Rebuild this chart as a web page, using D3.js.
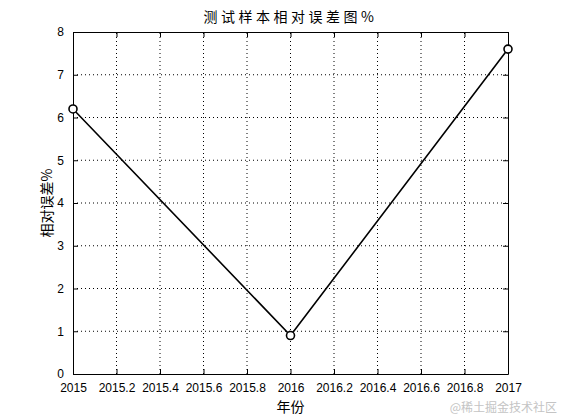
<!DOCTYPE html>
<html>
<head>
<meta charset="utf-8">
<script src="https://cdn.jsdelivr.net/npm/d3@7"></script>
<style>
  body { margin: 0; background: #fff; }
  svg { display: block; }
</style>
</head>
<body>
<script>
// values
const years = [2015, 2016, 2017];
const errors = [6.2, 0.9, 7.6];
const xTicks = [2015, 2015.2, 2015.4, 2015.6, 2015.8, 2016, 2016.2, 2016.4, 2016.6, 2016.8, 2017];
const yTicks = [0, 1, 2, 3, 4, 5, 6, 7, 8];

const width = 561;
const height = 420;
const margin = {top: 32, right: 53, bottom: 46, left: 73};

const svg = d3.select("body")
    .append("svg")
    .attr("width", width)
    .attr("height", height);

const x = d3.scaleLinear()
    .domain([2015, 2017])
    .range([margin.left, width - margin.right]);

const y = d3.scaleLinear()
    .domain([0, 8])
    .range([height - margin.bottom, margin.top]);

const font = "'Liberation Sans', Arial, sans-serif";
const cjk = "'Noto Sans CJK SC', sans-serif";

// dotted grid
svg.append("g")
    .selectAll("line")
    .data(xTicks.slice(1, -1))
    .join("line")
    .attr("x1", d => x(d)).attr("x2", d => x(d))
    .attr("y1", y(0)).attr("y2", y(8))
    .attr("stroke", "#000")
    .attr("stroke-width", 1)
    .attr("stroke-dasharray", "1,3");

svg.append("g")
    .selectAll("line")
    .data(yTicks.slice(1, -1))
    .join("line")
    .attr("x1", x(2015)).attr("x2", x(2017))
    .attr("y1", d => y(d)).attr("y2", d => y(d))
    .attr("stroke", "#000")
    .attr("stroke-width", 1)
    .attr("stroke-dasharray", "1,3");

// axes with inward ticks, box on all sides
const fmt = d => String(+d.toFixed(1));
const axBottom = svg.append("g")
    .attr("transform", `translate(0,${y(0)})`)
    .call(d3.axisBottom(x).tickValues(xTicks).tickFormat(fmt).tickSizeInner(-5).tickSizeOuter(0).tickPadding(9));
const axTop = svg.append("g")
    .attr("transform", `translate(0,${y(8)})`)
    .call(d3.axisTop(x).tickValues(xTicks).tickFormat("").tickSizeInner(-5).tickSizeOuter(0));
const axLeft = svg.append("g")
    .attr("transform", `translate(${x(2015)},0)`)
    .call(d3.axisLeft(y).tickValues(yTicks).tickFormat(d3.format("d")).tickSizeInner(-5).tickSizeOuter(0).tickPadding(9));
const axRight = svg.append("g")
    .attr("transform", `translate(${x(2017)},0)`)
    .call(d3.axisRight(y).tickValues(yTicks).tickFormat("").tickSizeInner(-5).tickSizeOuter(0));

[axBottom, axTop, axLeft, axRight].forEach(g => {
    g.selectAll("path, line").attr("stroke", "#000").attr("stroke-width", 1);
    g.selectAll("text")
        .attr("fill", "#000")
        .style("font-family", font)
        .style("font-size", "12px");
});

// line and circle markers
const pts = years.map((d, i) => [d, errors[i]]);
svg.append("path")
    .datum(pts)
    .attr("fill", "none")
    .attr("stroke", "#000")
    .attr("stroke-width", 1.6)
    .attr("d", d3.line().x(d => x(d[0])).y(d => y(d[1])));

svg.append("g")
    .selectAll("circle")
    .data(pts)
    .join("circle")
    .attr("cx", d => x(d[0]))
    .attr("cy", d => y(d[1]))
    .attr("r", 4)
    .attr("fill", "#fff")
    .attr("stroke", "#000")
    .attr("stroke-width", 1.6);

// titles
svg.append("text")
    .attr("x", (x(2015) + x(2017)) / 2)
    .attr("y", 22)
    .attr("text-anchor", "middle")
    .style("font-family", cjk)
    .style("font-size", "14px")
    .style("letter-spacing", "3.5px")
    .text("测试样本相对误差图%");

svg.append("text")
    .attr("x", (x(2015) + x(2017)) / 2)
    .attr("y", 412)
    .attr("text-anchor", "middle")
    .style("font-family", cjk)
    .style("font-size", "14px")
    .text("年份");

svg.append("text")
    .attr("transform", `translate(52,${(y(0) + y(8)) / 2}) rotate(-90)`)
    .attr("text-anchor", "middle")
    .style("font-family", cjk)
    .style("font-size", "14px")
    .text("相对误差%");

// watermark
svg.append("text")
    .attr("x", 557)
    .attr("y", 412)
    .attr("text-anchor", "end")
    .attr("fill", "#c4c4c4")
    .style("font-family", cjk)
    .style("font-size", "12px")
    .text("@稀土掘金技术社区");
</script>
</body>
</html>
